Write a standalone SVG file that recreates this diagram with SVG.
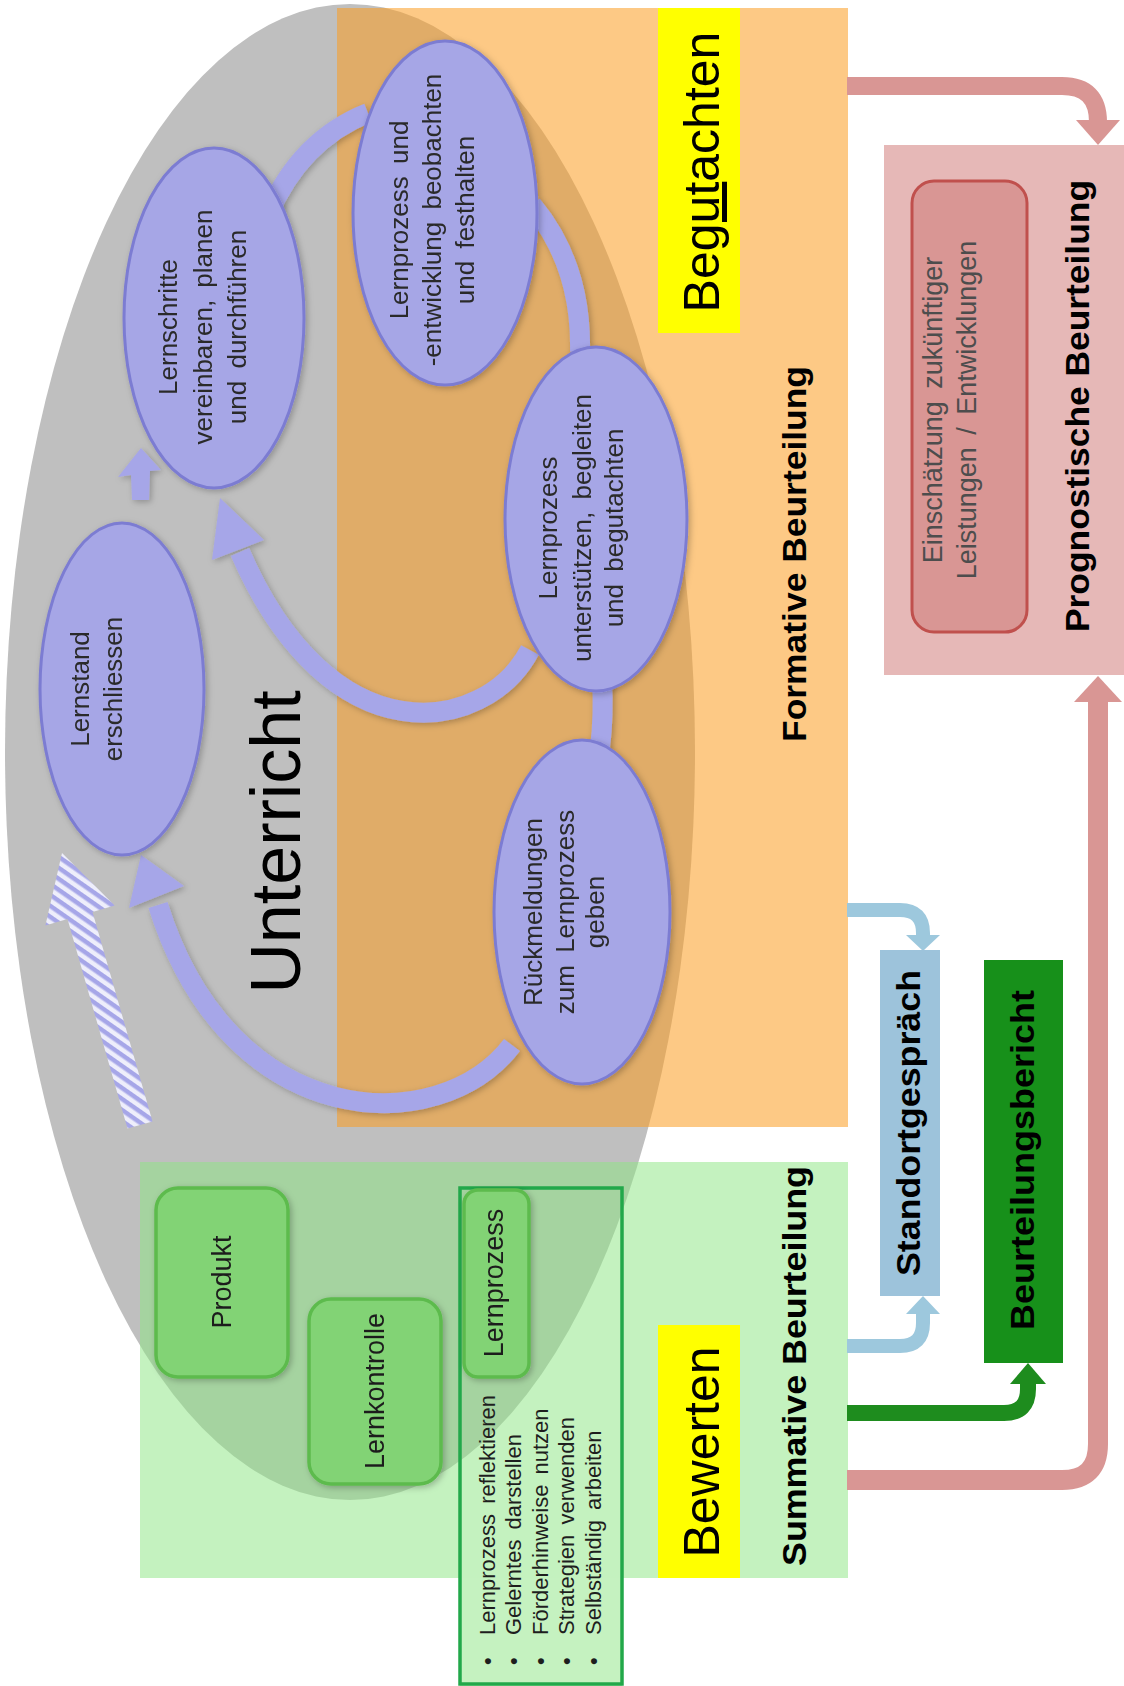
<svg xmlns="http://www.w3.org/2000/svg" width="1124" height="1686" viewBox="0 0 1124 1686">
<style>
  text { font-family: "Liberation Sans", Arial, sans-serif; }
  .et { font-size: 26px; fill: #2a2a2a; text-anchor: middle; word-spacing: 5px; }
  .bt { font-size: 27px; fill: #1e1e1e; text-anchor: middle; }
  .lt { font-size: 22px; fill: #1e1e1e; word-spacing: 4px; }
  .big { font-size: 50px; fill: #000; text-anchor: middle; }
  .lab { font-size: 34px; font-weight: bold; fill: #000; text-anchor: middle; }
  .pe { fill: #A6A6E6; stroke: #7C7CD2; stroke-width: 3; }
  .gb { fill: #82D374; stroke: #5DBB4D; stroke-width: 3.5; }
  .ring { fill: none; stroke: #A6A6E8; stroke-width: 20; }
  .ah { fill: #A6A6E8; }
</style>
<defs>
  <pattern id="hatch" width="9" height="9" patternUnits="userSpaceOnUse" patternTransform="rotate(35)">
    <rect width="9" height="9" fill="#EEEEFB"/>
    <rect width="9" height="4.5" fill="#A6A6E8"/>
  </pattern>
  <filter id="sh" x="-20%" y="-20%" width="140%" height="140%">
    <feDropShadow dx="2" dy="2" stdDeviation="3" flood-color="#000" flood-opacity="0.25"/>
  </filter>
</defs>

<!-- background areas -->
<g id="list-fill">
  <rect x="460" y="1578" width="162" height="108" fill="#C5F2C0"/>
</g>
<g id="unterricht-area">
  <ellipse cx="350" cy="752" rx="345" ry="748" fill="#BFBFBF"/>
</g>
<g id="formative-area">
  <rect x="337" y="8" width="511" height="1119" fill="#FB9C20" fill-opacity="0.55"/>
</g>
<g id="summative-area">
  <rect x="140" y="1162" width="708" height="416" fill="#8EE684" fill-opacity="0.52"/>
</g>

<!-- labels of areas -->
<g id="label-begutachten">
  <rect x="658" y="8" width="82" height="325" fill="#FFFF00"/>
  <text class="big" transform="translate(719 172) rotate(-90)">Be<tspan text-decoration="underline">gut</tspan>achten</text>
</g>
<g id="label-bewerten">
  <rect x="658" y="1325" width="82" height="253" fill="#FFFF00"/>
  <text class="big" transform="translate(719 1452) rotate(-90)">Bewerten</text>
</g>
<g id="label-formative">
  <text class="lab" transform="translate(806 554) rotate(-90)" textLength="376" lengthAdjust="spacingAndGlyphs">Formative Beurteilung</text>
</g>
<g id="label-summative">
  <text class="lab" transform="translate(806 1366) rotate(-90)" textLength="400" lengthAdjust="spacingAndGlyphs">Summative Beurteilung</text>
</g>
<g id="label-unterricht">
  <text transform="translate(300 842) rotate(-90)" font-size="70" fill="#000" text-anchor="middle">Unterricht</text>
</g>

<!-- list box -->
<g id="list">
  <rect x="460" y="1188" width="162" height="496" fill="none" stroke="#22A84A" stroke-width="3.5"/>
  <text class="lt" transform="translate(495 1665) rotate(-90)">•</text>
  <text class="lt" transform="translate(495 1635) rotate(-90)">Lernprozess reflektieren</text>
  <text class="lt" transform="translate(521 1665) rotate(-90)">•</text>
  <text class="lt" transform="translate(521 1635) rotate(-90)">Gelerntes darstellen</text>
  <text class="lt" transform="translate(548 1665) rotate(-90)">•</text>
  <text class="lt" transform="translate(548 1635) rotate(-90)">Förderhinweise nutzen</text>
  <text class="lt" transform="translate(574 1665) rotate(-90)">•</text>
  <text class="lt" transform="translate(574 1635) rotate(-90)">Strategien verwenden</text>
  <text class="lt" transform="translate(601 1665) rotate(-90)">•</text>
  <text class="lt" transform="translate(601 1635) rotate(-90)">Selbständig arbeiten</text>
</g>

<!-- connectors -->
<g id="connectors">
  <g filter="url(#sh)">
    <path class="ring" d="M 268 215 Q 300 140 368 113"/>
    <path class="ring" d="M 532 205 Q 582 265 580 352"/>
    <path class="ring" d="M 602 680 Q 604 715 600 748"/>
    <path class="ring" d="M 530 650 C 485 735, 330 760, 240 552"/>
    <polygon class="ah" points="220,498 264,540 212,560"/>
    <path class="ring" d="M 512 1045 C 440 1140, 230 1135, 158 905"/>
    <polygon class="ah" points="141,855 184,886 129,908"/>
    <polygon class="ah" points="141,448 161,470 150,471 149,500 132,500 131,475 118,477"/>
  </g>
  <polygon fill="url(#hatch)" points="127.5,1128.6 152.5,1121.4 92.5,911.9 114.6,905.6 62,853 45.4,925.4 67.5,919.1"/>

  <path d="M 847 86 H 1062 Q 1098 86 1098 122 V 124" fill="none" stroke="#D99694" stroke-width="18"/>
  <polygon points="1076,120 1120,120 1098,145" fill="#D99694"/>
  <path d="M 847 1480 H 1062 Q 1098 1480 1098 1444 V 700" fill="none" stroke="#D99694" stroke-width="20"/>
  <polygon points="1074,702 1122,702 1098,676" fill="#D99694"/>

  <path d="M 847 910 H 900 Q 923 910 923 933 V 937" fill="none" stroke="#9DC8DD" stroke-width="14"/>
  <polygon points="906,935 940,935 923,951" fill="#9DC8DD"/>
  <path d="M 847 1346 H 900 Q 923 1346 923 1323 V 1312" fill="none" stroke="#9DC8DD" stroke-width="14"/>
  <polygon points="906,1314 940,1314 923,1296" fill="#9DC8DD"/>

  <path d="M 847 1413 H 1004 Q 1028 1413 1028 1389 V 1382" fill="none" stroke="#1E8C1E" stroke-width="16"/>
  <polygon points="1010,1384 1046,1384 1028,1363" fill="#1E8C1E"/>
</g>

<!-- cycle nodes -->
<g id="node-lernstand" filter="url(#sh)">
  <ellipse class="pe" cx="122" cy="689" rx="82" ry="166"/>
  <text class="et" transform="translate(89 689) rotate(-90)"><tspan x="0" y="0">Lernstand</tspan><tspan x="0" y="33">erschliessen</tspan></text>
</g>
<g id="node-lernschritte" filter="url(#sh)">
  <ellipse class="pe" cx="214" cy="318" rx="90" ry="170"/>
  <text class="et" transform="translate(177 327) rotate(-90)"><tspan x="0" y="0">Lernschritte</tspan><tspan x="0" y="35">vereinbaren, planen</tspan><tspan x="0" y="69">und durchführen</tspan></text>
</g>
<g id="node-beobachten" filter="url(#sh)">
  <ellipse class="pe" cx="445" cy="213" rx="92" ry="172"/>
  <text class="et" transform="translate(408 220) rotate(-90)"><tspan x="0" y="0">Lernprozess und</tspan><tspan x="0" y="33">-entwicklung beobachten</tspan><tspan x="0" y="66">und festhalten</tspan></text>
</g>
<g id="node-unterstuetzen" filter="url(#sh)">
  <ellipse class="pe" cx="596" cy="519" rx="91" ry="172"/>
  <text class="et" transform="translate(557 528) rotate(-90)"><tspan x="0" y="0">Lernprozess</tspan><tspan x="0" y="34">unterstützen, begleiten</tspan><tspan x="0" y="66">und begutachten</tspan></text>
</g>
<g id="node-rueckmeldungen" filter="url(#sh)">
  <ellipse class="pe" cx="582" cy="912" rx="88" ry="172"/>
  <text class="et" transform="translate(542 912) rotate(-90)"><tspan x="0" y="0">Rückmeldungen</tspan><tspan x="0" y="32">zum Lernprozess</tspan><tspan x="0" y="62">geben</tspan></text>
</g>

<!-- summative boxes -->
<g id="node-produkt" filter="url(#sh)">
  <rect class="gb" x="156" y="1188" width="132" height="189" rx="22"/>
  <text class="bt" transform="translate(231 1282) rotate(-90)">Produkt</text>
</g>
<g id="node-lernkontrolle" filter="url(#sh)">
  <rect class="gb" x="309" y="1299" width="132" height="185" rx="22"/>
  <text class="bt" transform="translate(384 1391) rotate(-90)">Lernkontrolle</text>
</g>
<g id="node-lernprozess" filter="url(#sh)">
  <rect class="gb" x="464" y="1190" width="65" height="187" rx="14"/>
  <text class="bt" transform="translate(503 1283) rotate(-90)">Lernprozess</text>
</g>

<!-- right side -->
<g id="node-prognostisch">
  <rect x="884" y="145" width="240" height="530" fill="#E6B8B7"/>
  <rect x="912" y="181" width="115" height="451" rx="22" fill="#D99694" stroke="#C0504D" stroke-width="3"/>
  <text font-size="27" fill="#4d4d4d" text-anchor="middle" word-spacing="5" transform="translate(942 410) rotate(-90)"><tspan x="0" y="0">Einschätzung zukünftiger</tspan><tspan x="0" y="34">Leistungen / Entwicklungen</tspan></text>
  <text class="lab" transform="translate(1089 406) rotate(-90)" textLength="452" lengthAdjust="spacingAndGlyphs">Prognostische Beurteilung</text>
</g>
<g id="node-standortgespraech">
  <rect x="880" y="950" width="60" height="346" fill="#9DC3DB"/>
  <text class="lab" transform="translate(920 1123) rotate(-90)" textLength="306" lengthAdjust="spacingAndGlyphs">Standortgespräch</text>
</g>
<g id="node-beurteilungsbericht">
  <rect x="984" y="960" width="79" height="403" fill="#17901A"/>
  <text class="lab" fill="#0a0a0a" transform="translate(1034 1160) rotate(-90)" textLength="340" lengthAdjust="spacingAndGlyphs">Beurteilungsbericht</text>
</g>
</svg>
